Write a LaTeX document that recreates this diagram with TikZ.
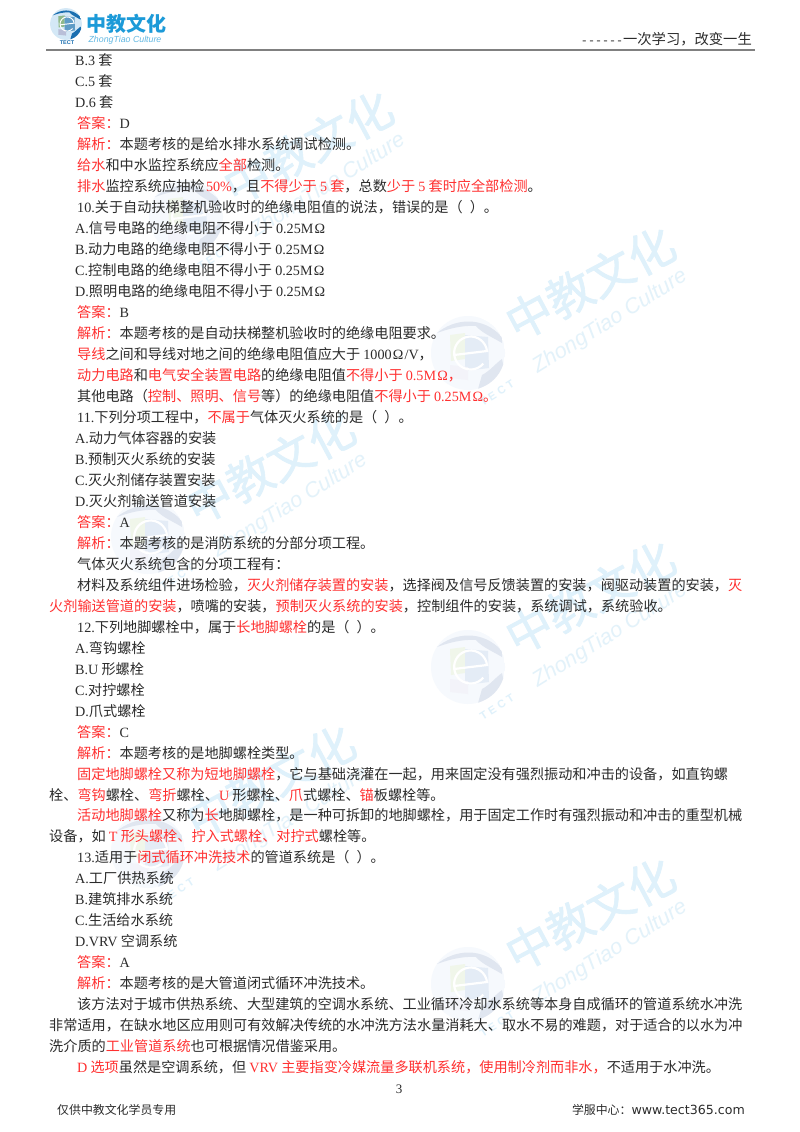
\documentclass[tikz,border=0pt]{standalone}
\usepackage{fontspec}
\setmainfont{Noto Sans CJK SC}
\newfontfamily\wmf[FakeBold=1.2]{Noto Sans CJK SC}
\newfontfamily\latf{Liberation Serif}
\newfontfamily\latm{Liberation Mono}
\newfontfamily\sansf{DejaVu Sans}
\newfontfamily\helv{Liberation Sans}
\definecolor{ink}{HTML}{2B2B2B}
\definecolor{redt}{HTML}{FF3030}
\definecolor{wmtext}{HTML}{DFF1FB}
\definecolor{wmsub}{HTML}{E3F2FA}
\definecolor{logoblue}{HTML}{1C9AD8}
\definecolor{logosub}{HTML}{62B8E2}
\definecolor{wbg}{HTML}{F6F9FD}
\definecolor{wcont}{HTML}{E0E6F0}
\definecolor{wgreen}{HTML}{F0F6EA}
\definecolor{wblue}{HTML}{E4ECF6}
\definecolor{wlav}{HTML}{F3F3F9}
\definecolor{lbg}{HTML}{D4E8F6}
\definecolor{lcont}{HTML}{1B6FB0}
\definecolor{lgreen}{HTML}{8FB98A}
\definecolor{lblue}{HTML}{5F9CC6}
\definecolor{llav}{HTML}{B9BFD8}
\newcommand\rd[1]{\textcolor{redt}{#1}}
\newcommand\lat[1]{{\latf #1}}
\newcommand\ohm{M\hspace{1.2pt}Ω}
\newcommand\br{（\hspace{7pt}）}
\tikzset{
  txt/.style={anchor=base west,inner sep=0pt,text=ink,font=\fontsize{14.15}{17}\selectfont},
  wmbig/.style={inner sep=0pt,text=wmtext,font=\fontsize{46}{50}\selectfont\wmf},
  wmzh/.style={inner sep=0pt,text=wmsub,font=\fontsize{21.5}{24}\selectfont\helv\itshape},
  wmtc/.style={inner sep=0pt,text=wmtext,font=\fontsize{11}{12}\selectfont\helv\bfseries}
}
\newcommand\docline[3]{\node[txt] (l#1) at (#2,{65.7+20.98*#1}) {#3};}
% x y scale bg continent green blue lavender
\newcommand\globemark[8]{%
  \begin{scope}[shift={(#1,#2)},scale=#3]
    \begin{scope}
      \clip (0,0) circle (37);
      \fill[#4] (0,0) circle (37);
      \fill[#5] (-31,-20) .. controls (-14,-34) and (14,-38) .. (34,-16) -- (34,-10) .. controls (24,-16) and (14,-20) .. (8,-27) .. controls (-6,-28) and (-20,-24) .. (-31,-20) -- cycle;
      \fill[#5] (14,22) .. controls (22,18) and (28,10) .. (34,6) -- (36,16) .. controls (30,28) and (18,34) .. (10,36) -- cycle;
      \fill[#6] (-18,-18) -- (-3,-20) -- (-3,6) -- (-17,8) -- cycle;
      \fill[#7] (-3,-18) -- (20,-16) -- (21,15) -- (-3,18) -- cycle;
      \fill[#8] (-18,12) -- (0,14) -- (0,27) -- (-18,25) -- cycle;
      \draw[white,line width=2.2pt*#3] (-14,2) -- (19,-2) arc (-7:-320:16.5);
    \end{scope}
  \end{scope}}
\newcommand\wmark[3]{%
  \globemark{\the\numexpr468+#1\relax}{\the\numexpr353+#2\relax}{1}{wbg}{wcont}{wgreen}{wblue}{wlav}
  \node[wmbig,rotate=28] (w#3a) at ({590+#1},{283+#2}) {中教文化};
  \node[wmzh,rotate=32] (w#3b) at ({610+#1},{322+#2}) {ZhongTiao Culture};
  \node[wmtc,rotate=32] (w#3c) at ({497+#1},{393+#2}) {T E C T};
}
\begin{document}
\begin{tikzpicture}[x=1pt,y=-1pt]
\useasboundingbox (0,0) rectangle (800,1132);
\fill[white] (0,0) rectangle (800,1132);
% watermarks
\wmark{-282}{-136}{p}
\wmark{0}{0}{q}
\wmark{-320}{184}{r}
\wmark{0}{314}{s}
\wmark{-320}{498}{t}
\wmark{0}{631}{u}
% header logo
\globemark{66}{24}{0.43}{lbg}{lcont}{lgreen}{lblue}{llav}
\node[inner sep=0pt,text=logoblue,font=\fontsize{20}{22}\selectfont\bfseries] (logoa) at (126,24) {中教文化};
\node[inner sep=0pt,text=logosub,font=\fontsize{8.8}{10}\selectfont\helv\itshape] (logob) at (125,40) {ZhongTiao Culture};
\node[inner sep=0pt,text=lcont,font=\fontsize{5.5}{6}\selectfont\helv\bfseries] (logoc) at (67,42.5) {TECT};
\node[anchor=base east,inner sep=0pt,text=ink,font=\fontsize{14.3}{17}\selectfont] (hd) at (752,45) {{\latm\fontsize{11.7}{14}\selectfont ------}一次学习，改变一生};
\coordinate (rl) at (46,50);
\coordinate (rr) at (755,50);
\draw[gray,line width=1.1pt] (rl) -- (rr);
% body
\docline{0}{75}{\lat{B.3} 套}
\docline{1}{75}{\lat{C.5} 套}
\docline{2}{75}{\lat{D.6} 套}
\docline{3}{77}{\rd{答案：}\lat{D}}
\docline{4}{77}{\rd{解析：}本题考核的是给水排水系统调试检测。}
\docline{5}{77}{\rd{给水}和中水监控系统应\rd{全部}检测。}
\docline{6}{77}{\rd{排水}监控系统应抽检\hspace{1.5pt}\rd{\lat{50\%}}，且\rd{不得少于 \lat{5} 套}，总数\rd{少于 \lat{5} 套时应全部检测}。}
\docline{7}{77}{\lat{10.}关于自动扶梯整机验收时的绝缘电阻值的说法，错误的是\br。}
\docline{8}{75}{\lat{A.}信号电路的绝缘电阻不得小于 \lat{0.25\ohm}}
\docline{9}{75}{\lat{B.}动力电路的绝缘电阻不得小于 \lat{0.25\ohm}}
\docline{10}{75}{\lat{C.}控制电路的绝缘电阻不得小于 \lat{0.25\ohm}}
\docline{11}{75}{\lat{D.}照明电路的绝缘电阻不得小于 \lat{0.25\ohm}}
\docline{12}{77}{\rd{答案：}\lat{B}}
\docline{13}{77}{\rd{解析：}本题考核的是自动扶梯整机验收时的绝缘电阻要求。}
\docline{14}{77}{\rd{导线}之间和导线对地之间的绝缘电阻值应大于 \lat{1000\hspace{1.2pt}Ω\hspace{1.2pt}/V}，}
\docline{15}{77}{\rd{动力电路}和\rd{电气安全装置电路}的绝缘电阻值\rd{不得小于 \lat{0.5\ohm}，}}
\docline{16}{77}{其他电路（\rd{控制、照明、信号}等）的绝缘电阻值\rd{不得小于 \lat{0.25\ohm}。}}
\docline{17}{77}{\lat{11.}下列分项工程中，\rd{不属于}气体灭火系统的是\br。}
\docline{18}{75}{\lat{A.}动力气体容器的安装}
\docline{19}{75}{\lat{B.}预制灭火系统的安装}
\docline{20}{75}{\lat{C.}灭火剂储存装置安装}
\docline{21}{75}{\lat{D.}灭火剂输送管道安装}
\docline{22}{77}{\rd{答案：}\lat{A}}
\docline{23}{77}{\rd{解析：}本题考核的是消防系统的分部分项工程。}
\docline{24}{77}{气体灭火系统包含的分项工程有：}
\docline{25}{77}{材料及系统组件进场检验，\rd{灭火剂储存装置的安装}，选择阀及信号反馈装置的安装，阀驱动装置的安装，\rd{灭}}
\docline{26}{49}{\rd{火剂输送管道的安装}，喷嘴的安装，\rd{预制灭火系统的安装}，控制组件的安装，系统调试，系统验收。}
\docline{27}{77}{\lat{12.}下列地脚螺栓中，属于\rd{长地脚螺栓}的是\br。}
\docline{28}{75}{\lat{A.}弯钩螺栓}
\docline{29}{75}{\lat{B.U} 形螺栓}
\docline{30}{75}{\lat{C.}对拧螺栓}
\docline{31}{75}{\lat{D.}爪式螺栓}
\docline{32}{77}{\rd{答案：}\lat{C}}
\docline{33}{77}{\rd{解析：}本题考核的是地脚螺栓类型。}
\docline{34}{77}{\rd{固定地脚螺栓又称为短地脚螺栓}，它与基础浇灌在一起，用来固定没有强烈振动和冲击的设备，如直钩螺}
\docline{35}{49}{栓、\rd{弯钩}螺栓、\rd{弯折}螺栓、\rd{\lat{U}} 形螺栓、\rd{爪}式螺栓、\rd{锚}板螺栓等。}
\docline{36}{77}{\rd{活动地脚螺栓}又称为\rd{长}地脚螺栓，是一种可拆卸的地脚螺栓，用于固定工作时有强烈振动和冲击的重型机械}
\docline{37}{49}{设备，如 \rd{\lat{T} 形头螺栓、拧入式螺栓、对拧式}螺栓等。}
\docline{38}{77}{\lat{13.}适用于\rd{闭式循环冲洗技术}的管道系统是\br。}
\docline{39}{75}{\lat{A.}工厂供热系统}
\docline{40}{75}{\lat{B.}建筑排水系统}
\docline{41}{75}{\lat{C.}生活给水系统}
\docline{42}{75}{\lat{D.VRV} 空调系统}
\docline{43}{77}{\rd{答案：}\lat{A}}
\docline{44}{77}{\rd{解析：}本题考核的是大管道闭式循环冲洗技术。}
\docline{45}{77}{该方法对于城市供热系统、大型建筑的空调水系统、工业循环冷却水系统等本身自成循环的管道系统水冲洗}
\docline{46}{49}{非常适用，在缺水地区应用则可有效解决传统的水冲洗方法水量消耗大、取水不易的难题，对于适合的以水为冲}
\docline{47}{49}{洗介质的\rd{工业管道系统}也可根据情况借鉴采用。}
\docline{48}{77}{\rd{\lat{D} 选项}虽然是空调系统，但 \rd{\lat{VRV} 主要指变冷媒流量多联机系统，使用制冷剂而非水，}不适用于水冲洗。}
% footer
\node[anchor=base,inner sep=0pt,text=ink,font=\fontsize{13}{15}\selectfont\latf] (pg) at (399,1093.5) {3};
\node[anchor=base west,inner sep=0pt,text=ink,font=\fontsize{11.9}{15}\selectfont] (fl) at (57,1114) {仅供中教文化学员专用};
\node[anchor=base east,inner sep=0pt,text=ink,font=\fontsize{11.9}{15}\selectfont] (fr) at (745,1114) {学服中心：{\sansf\fontsize{12.6}{15}\selectfont www.tect365.com}};
\end{tikzpicture}
\end{document}
